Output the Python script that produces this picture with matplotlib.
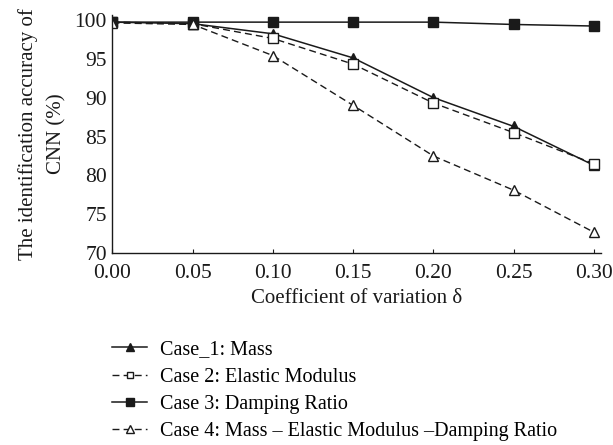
import matplotlib
matplotlib.use("Agg")
import matplotlib.pyplot as plt

plt.rcParams['font.family'] = ['Liberation Serif', 'DejaVu Serif']

cov = [0.00, 0.05, 0.10, 0.15, 0.20, 0.25, 0.30]
case1_mass = [99.7, 99.5, 98.2, 95.1, 90.0, 86.3, 81.3]
case2_elastic = [99.7, 99.5, 97.6, 94.3, 89.3, 85.5, 81.5]
case3_damping = [99.7, 99.7, 99.7, 99.7, 99.7, 99.4, 99.2]
case4_combined = [99.6, 99.4, 95.4, 89.0, 82.5, 78.1, 72.7]

labels = ["Case_1: Mass",
          "Case 2: Elastic Modulus",
          "Case 3: Damping Ratio",
          "Case 4: Mass \u2013 Elastic Modulus \u2013Damping Ratio"]
xticks = [0.00, 0.05, 0.10, 0.15, 0.20, 0.25, 0.30]
yticks = [70, 75, 80, 85, 90, 95, 100]

fig = plt.figure(figsize=(6.13, 4.45), dpi=100)
ax = fig.add_axes([0.1835, 0.431, 0.797, 0.535])

c = '#1a1a1a'
ax.plot(cov, case1_mass, '-', color=c, lw=1.1, marker='^', ms=7,
        mfc=c, mec=c, label=labels[0])
ax.plot(cov, case2_elastic, '--', color=c, lw=1.0, marker='s', ms=6.5,
        mfc='white', mec=c, mew=1.0, dashes=(5, 3), label=labels[1])
ax.plot(cov, case3_damping, '-', color=c, lw=1.1, marker='s', ms=7,
        mfc=c, mec=c, label=labels[2])
ax.plot(cov, case4_combined, '--', color=c, lw=1.0, marker='^', ms=7,
        mfc='white', mec=c, mew=1.0, dashes=(5, 3), label=labels[3])

ax.set_xlim(0, 0.3045)
ax.set_ylim(70, 100.6)
ax.set_xticks(xticks)
ax.set_xticklabels([f"{v:.2f}" for v in xticks])
ax.set_yticks(yticks)
ax.tick_params(axis='x', direction='in', length=3, width=0.8, labelsize=15.5, pad=8, colors=c)
ax.tick_params(axis='y', length=0, labelsize=15.5, pad=4, colors=c)
for s in ('top', 'right'):
    ax.spines[s].set_visible(False)
for s in ('left', 'bottom'):
    ax.spines[s].set_linewidth(1.0)
    ax.spines[s].set_color(c)

ax.set_xlabel("Coefficient of variation \u03b4", fontsize=15, labelpad=4, color=c)
ax.set_ylabel("The identification accuracy of\nCNN (%)", fontsize=15, labelpad=6,
              color=c, linespacing=1.6)

handles, labs = ax.get_legend_handles_labels()
fig.legend(handles, labs, loc='upper left', bbox_to_anchor=(0.1827, 0.235),
           frameon=False, fontsize=14.5, handlelength=1.75, handletextpad=0.65,
           labelspacing=0.4, markerscale=0.75, borderpad=0, borderaxespad=0)

fig.savefig("out.png", dpi=100)
